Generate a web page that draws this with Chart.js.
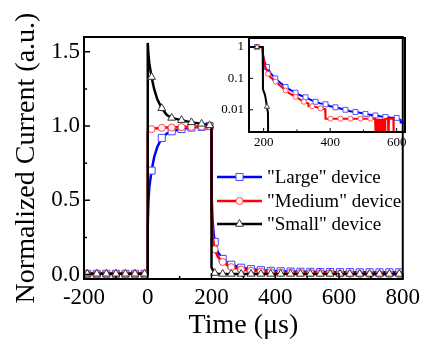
<!DOCTYPE html>
<html lang="en">
<head>
<meta charset="UTF-8">
<title>normalized current</title>
<script src="https://cdn.jsdelivr.net/npm/chart.js"></script>
<style>
  body { margin: 0; background: #fff; }
  #wrap { position: relative; width: 425px; height: 342px; }
  #inset { position: absolute; left: 200px; top: 20px; }
</style>
</head>
<body>
<div id="wrap">
  <canvas id="main" width="425" height="342"></canvas>
  <canvas id="inset" width="225" height="140"></canvas>
</div>
<script>
// ---- main plot (linear), time in us, shared by the three devices
const tMain = [-200, -190, -160, -130, -100, -70, -40, -10, 0, 0, 2, 5, 12, 20, 30, 44, 60, 75, 106, 137, 169, 194,
  200, 200, 203, 206, 210, 220, 235, 250, 262, 280, 293, 324, 355, 386, 417, 448, 479, 510, 541, 572, 603, 634, 665, 696, 727, 758, 789, 800];
const largeMain = [0.005, 0.005, 0.005, 0.005, 0.005, 0.005, 0.005, 0.005, 0.005,
  0.33, 0.48, 0.59, 0.70, 0.79, 0.86, 0.92, 0.95, 0.965, 0.98, 0.99, 0.995, 1.0,
  1.0, 0.55, 0.38, 0.29, 0.22, 0.15,
  0.105, 0.08, 0.066, 0.053, 0.046, 0.036, 0.029, 0.025, 0.022, 0.02, 0.019, 0.018, 0.017, 0.017, 0.016, 0.016,
  0.015, 0.015, 0.015, 0.015, 0.015, 0.015];
const mediumMain = [0.005, 0.005, 0.005, 0.005, 0.005, 0.005, 0.005, 0.005, 0.005,
  0.96, 0.965, 0.97, 0.98, 0.983, 0.985, 0.988, 0.99, 0.99, 0.993, 0.995, 0.997, 1.0,
  1.0, 0.45, 0.3, 0.22, 0.17, 0.12,
  0.085, 0.062, 0.05, 0.04, 0.034, 0.025, 0.02, 0.016, 0.013, 0.012, 0.011, 0.01, 0.009, 0.008, 0.006, 0.004,
  0.003, 0.002, 0.002, 0.002, 0.002, 0.002];
const smallMain = [0.005, 0.005, 0.005, 0.005, 0.005, 0.005, 0.005, 0.005, 0.005,
  1.56, 1.49, 1.42, 1.33, 1.25, 1.18, 1.12, 1.075, 1.055, 1.04, 1.025, 1.015, 1.005,
  1.0, 0.05, 0.035, 0.02, 0.01, 0.004,
  0.004, 0.004, 0.004, 0.004, 0.004, 0.004, 0.004, 0.004, 0.004, 0.004, 0.004, 0.004, 0.004, 0.004, 0.004, 0.004,
  0.004, 0.004, 0.004, 0.004, 0.004, 0.004];
const markMain = [-190, -160, -130, -100, -70, -40, -10, 12, 44, 75, 106, 137, 169, 194,
  210, 235, 262, 293, 324, 355, 386, 417, 448, 479, 510, 541, 572, 603, 634, 665, 696, 727, 758, 789];

// ---- inset (log scale)
const tLargeIn = [156, 180, 197, 198, 200, 203, 206, 210, 220, 235, 250, 266, 280, 296, 310, 326, 340, 356, 370, 386,
  400, 416, 430, 446, 460, 476, 490, 506, 520, 536, 550, 566, 580, 600, 611, 612, 625];
const largeIn = [1, 1, 1, 0.6, 0.45, 0.33, 0.28, 0.23, 0.15, 0.10, 0.072, 0.053, 0.043, 0.035, 0.029, 0.025, 0.021, 0.018, 0.016, 0.015,
  0.013, 0.012, 0.011, 0.010, 0.009, 0.0085, 0.008, 0.0074, 0.007, 0.0066, 0.0062, 0.0059, 0.0057, 0.0055, 0.0048, 0.0039, 0.0039];
const markLargeIn = [180, 210, 235, 266, 296, 326, 356, 386, 416, 446, 476, 506, 536, 566, 600];

const tMediumIn = [156, 183, 197, 198, 200, 203, 206, 213, 220, 236, 250, 266, 280, 296, 310, 321, 334, 335, 346, 360,
  371, 385, 386, 401, 431, 461, 491, 521, 535, 537, 539, 541, 543, 545, 547, 549, 551, 553, 555, 557,
  559, 561, 563, 565, 566, 574, 575, 577, 590, 591];
const mediumIn = [1, 1, 1, 0.55, 0.4, 0.28, 0.22, 0.14, 0.11, 0.079, 0.058, 0.041, 0.032, 0.026, 0.021, 0.018, 0.016, 0.013, 0.013, 0.012,
  0.011, 0.0105, 0.0052, 0.0052, 0.0052, 0.0052, 0.0052, 0.0052, 0.0052, 0.001, 0.0052, 0.001, 0.0052, 0.001, 0.0052, 0.001, 0.0052, 0.001, 0.0052, 0.001,
  0.0052, 0.001, 0.0052, 0.001, 0.0052, 0.0052, 0.001, 0.0052, 0.0052, 0.001];
const markMediumIn = [183, 213, 236, 266, 296, 321, 346, 371, 401, 431, 461, 491, 521];

const tSmallIn = [156, 180, 197, 198, 204, 207, 210, 213, 214];
const smallIn = [1, 1, 1, 0.045, 0.03, 0.02, 0.0125, 0.008, 0.0005];
const markSmallIn = [180, 210];

// ---- ticks and labels
const xTicks = [-200, 0, 200, 400, 600, 800];
const xMinor = [-100, 100, 300, 500, 700];
const yTicks = [0, 0.5, 1.0, 1.5];
const yMinor = [0.25, 0.75, 1.25];
const inXTicks = [200, 400, 600];
const inXMinor = [300, 500];
const inYTicks = [0.01, 0.1, 1];
const seriesNames = ['"Large" device', '"Medium" device', '"Small" device'];

Chart.defaults.font.family = "'Liberation Serif', 'Times New Roman', serif";
Chart.defaults.color = '#000';

function pts(t, v) { return t.map((x, i) => ({x: x, y: v[i]})); }
function markRadius(r) {
  return ctx => (ctx.raw && ctx.dataset.marks.includes(ctx.raw.x)) ? r : 0;
}

// box + inward ticks (major / minor)
const frameTicks = {
  id: 'frameTicks',
  afterDatasetsDraw(chart, args, o) {
    const {ctx, chartArea: a} = chart;
    const x = chart.scales.x, y = chart.scales.y;
    ctx.save();
    ctx.strokeStyle = '#000';
    ctx.lineWidth = o.tickWidth;
    ctx.beginPath();
    o.xMajor.forEach(v => { const p = x.getPixelForValue(v); ctx.moveTo(p, a.bottom); ctx.lineTo(p, a.bottom - o.major); });
    o.xMinor.forEach(v => { const p = x.getPixelForValue(v); ctx.moveTo(p, a.bottom); ctx.lineTo(p, a.bottom - o.minor); });
    o.yMajor.forEach(v => { const p = y.getPixelForValue(v); ctx.moveTo(a.left, p); ctx.lineTo(a.left + o.major, p); });
    o.yMinor.forEach(v => { const p = y.getPixelForValue(v); ctx.moveTo(a.left, p); ctx.lineTo(a.left + o.minor, p); });
    ctx.stroke();
    ctx.lineWidth = o.frameWidth;
    ctx.strokeRect(a.left, a.top, a.width, a.height);
    ctx.restore();
  }
};

// legend: line with marker in the middle
function drawMark(ctx, style, x, y, r) {
  ctx.beginPath();
  if (style === 'rect') {
    const s = r * Math.SQRT1_2;
    ctx.rect(x - s, y - s, 2 * s, 2 * s);
  } else if (style === 'triangle') {
    ctx.moveTo(x, y - r);
    ctx.lineTo(x + r * 0.866, y + r / 2);
    ctx.lineTo(x - r * 0.866, y + r / 2);
    ctx.closePath();
  } else {
    ctx.arc(x, y, r, 0, Math.PI * 2);
  }
  ctx.fill();
  ctx.stroke();
}
const lineLegend = {
  id: 'lineLegend',
  afterDraw(chart, args, o) {
    const ctx = chart.ctx;
    chart.data.datasets.forEach((ds, i) => {
      const y = o.rows[i];
      ctx.save();
      ctx.strokeStyle = ds.borderColor;
      ctx.lineWidth = ds.borderWidth;
      ctx.beginPath();
      ctx.moveTo(o.x0, y);
      ctx.lineTo(o.x1, y);
      ctx.stroke();
      ctx.fillStyle = '#fff';
      ctx.strokeStyle = ds.pointBorderColor;
      ctx.lineWidth = 1;
      drawMark(ctx, ds.pointStyle, (o.x0 + o.x1) / 2, y, ds.markR);
      ctx.fillStyle = '#000';
      ctx.font = o.font;
      ctx.textBaseline = 'middle';
      ctx.fillText(ds.label, o.textX, y + 1);
      ctx.restore();
    });
  }
};

function series(label, data, color, markColor, style, r, marks, order, width) {
  return {
    label: label, data: data, marks: marks, markR: r, order: order,
    borderColor: color, borderWidth: width,
    pointStyle: style, pointBorderColor: markColor, pointBackgroundColor: '#fff',
    pointBorderWidth: 1, pointRadius: markRadius(r), tension: 0
  };
}

new Chart(document.getElementById('main'), {
  type: 'line',
  data: {
    datasets: [
      series(seriesNames[0], pts(tMain, largeMain), '#0000ff', '#4444ff', 'rect', 5, markMain, 3, 2.5),
      series(seriesNames[1], pts(tMain, mediumMain), '#ff0000', '#ff4444', 'circle', 3.5, markMain, 2, 2.5),
      series(seriesNames[2], pts(tMain, smallMain), '#000000', '#333333', 'triangle', 4.5, markMain, 1, 2.5)
    ]
  },
  options: {
    responsive: false,
    animation: false,
    devicePixelRatio: 1,
    layout: { padding: { top: 37, right: 20, left: 0, bottom: 0 } },
    plugins: {
      legend: { display: false },
      tooltip: { enabled: false },
      frameTicks: { xMajor: xTicks, xMinor: xMinor, yMajor: yTicks, yMinor: yMinor, major: 6, minor: 3, tickWidth: 1.5, frameWidth: 2 },
      lineLegend: { x0: 217, x1: 262, rows: [177, 201, 224], textX: 267, font: "19px 'Liberation Serif', serif" }
    },
    scales: {
      x: {
        type: 'linear', min: -200, max: 800,
        grid: { display: false, drawTicks: false },
        border: { display: false },
        afterBuildTicks: s => { s.ticks = xTicks.map(v => ({value: v})); },
        afterFit: s => { s.height = 63; },
        ticks: { font: { size: 23 }, padding: 5, maxRotation: 0, callback: v => String(v) },
        title: { display: true, text: 'Time (μs)', font: { size: 28, lineHeight: 1.2 }, padding: { top: 0, bottom: 0 } }
      },
      y: {
        type: 'linear', min: -0.03, max: 1.6,
        grid: { display: false, drawTicks: false },
        border: { display: false },
        afterBuildTicks: s => { s.ticks = yTicks.map(v => ({value: v})); },
        afterFit: s => { s.width = 84; },
        ticks: { font: { size: 23 }, padding: 4, callback: v => v.toFixed(1) },
        title: { display: true, text: 'Normalized Current (a.u.)', font: { size: 28, lineHeight: 1.2 }, padding: { top: 10, bottom: 0 } }
      }
    }
  },
  plugins: [frameTicks, lineLegend]
});

new Chart(document.getElementById('inset'), {
  type: 'line',
  data: {
    datasets: [
      series(seriesNames[0], pts(tLargeIn, largeIn), '#0000ff', '#5555ff', 'rect', 3.5, markLargeIn, 3, 2),
      series(seriesNames[1], pts(tMediumIn, mediumIn), '#ff0000', '#ff5555', 'circle', 2.5, markMediumIn, 2, 2),
      series(seriesNames[2], pts(tSmallIn, smallIn), '#000000', '#444444', 'triangle', 3, markSmallIn, 1, 2)
    ]
  },
  options: {
    responsive: false,
    animation: false,
    devicePixelRatio: 1,
    layout: { padding: { top: 18, right: 20, left: 0, bottom: 0 } },
    plugins: {
      legend: { display: false },
      tooltip: { enabled: false },
      frameTicks: { xMajor: inXTicks, xMinor: inXMinor, yMajor: inYTicks, yMinor: [], major: 4, minor: 2.5, tickWidth: 1, frameWidth: 2 }
    },
    scales: {
      x: {
        type: 'linear', min: 156, max: 625,
        grid: { display: false, drawTicks: false },
        border: { display: false },
        afterBuildTicks: s => { s.ticks = inXTicks.map(v => ({value: v})); },
        afterFit: s => { s.height = 28; },
        ticks: { font: { size: 13 }, padding: 3, maxRotation: 0, callback: v => String(v) }
      },
      y: {
        type: 'logarithmic', min: 0.00196, max: 1.93,
        grid: { display: false, drawTicks: false },
        border: { display: false },
        afterBuildTicks: s => { s.ticks = inYTicks.map(v => ({value: v})); },
        afterFit: s => { s.width = 49; },
        ticks: { font: { size: 13 }, padding: 5, callback: v => String(v) }
      }
    }
  },
  plugins: [frameTicks]
});
</script>
</body>
</html>
